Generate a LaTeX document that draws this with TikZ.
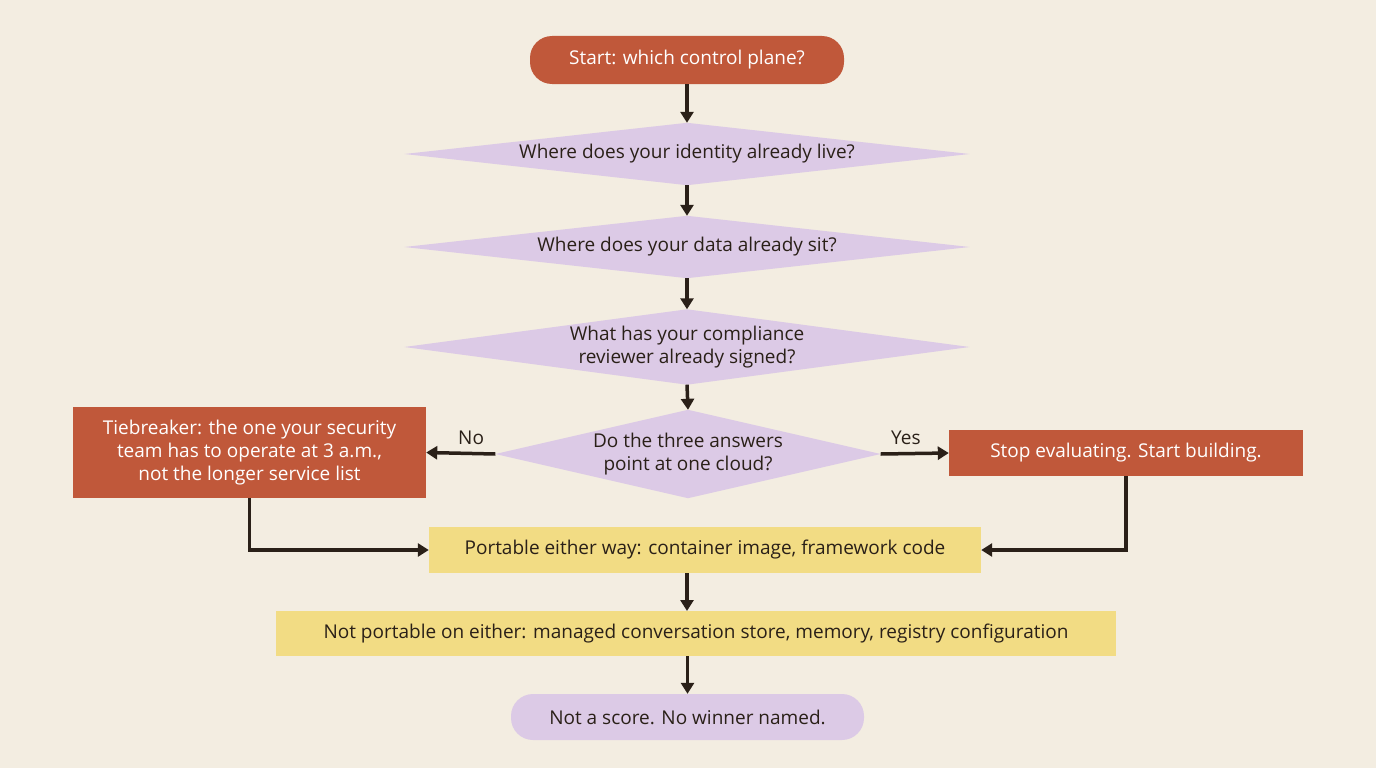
\documentclass[tikz,border=0pt]{standalone}
\usepackage{fontspec}
\setmainfont{Open Sans}
\usetikzlibrary{arrows.meta}
\definecolor{bg}{HTML}{F3EDE1}
\definecolor{org}{HTML}{C0583A}
\definecolor{lav}{HTML}{DCCAE6}
\definecolor{yel}{HTML}{F2DC84}
\definecolor{ink}{HTML}{2A2018}
\begin{document}
\begin{tikzpicture}[x=1pt,y=-1pt,
  box/.style={inner sep=0pt,align=center,font=\fontsize{19}{23}\selectfont,text=ink},
  obox/.style={box,fill=org,text=white},
  ybox/.style={box,fill=yel},
  dia/.style={box},
  arr/.style={draw=ink,line width=3.5pt,-{Triangle[length=11pt,width=13pt]}},
  lbl/.style={font=\fontsize{19}{23}\selectfont,text=ink}]
\fill[bg] (0,0) rectangle (1376,768);
\useasboundingbox (0,0) rectangle (1376,768);
\node[obox,rounded corners=22pt,minimum width=314pt,minimum height=48pt] (s) at (687,60) {Start: which control plane?};
\newcommand\diam[5]{%
 \node[dia,minimum width=#3pt,minimum height=#4pt] (#1) at #2 {};
 \fill[lav] (#1.west)--(#1.north)--(#1.east)--(#1.south)--cycle;
 \node[box] at (#1) {#5};}
\diam{d1}{(687,154)}{565}{62}{Where does your identity already live?}
\diam{d2}{(687,247)}{565}{62}{Where does your data already sit?}
\diam{d3}{(687,347)}{565}{75}{What has your compliance\\reviewer already signed?}
\diam{d4}{(688,454)}{385}{88}{Do the three answers\\point at one cloud?}
\node[obox,minimum width=353pt,minimum height=91pt] (t) at (249.5,452.5) {Tiebreaker: the one your security\\team has to operate at 3 a.m.,\\not the longer service list};
\node[obox,minimum width=354pt,minimum height=46pt] (y) at (1126,453) {Stop evaluating. Start building.};
\node[ybox,minimum width=552pt,minimum height=46pt] (p) at (705,550) {Portable either way: container image, framework code};
\node[ybox,minimum width=840pt,minimum height=45pt] (n) at (696,633.5) {Not portable on either: managed conversation store, memory, registry configuration};
\node[box,fill=lav,rounded corners=22pt,minimum width=353pt,minimum height=46pt] (e) at (687.5,717) {Not a score. No winner named.};
\draw[arr] (s.south) -- (d1.north);
\draw[arr] (d1.south) -- (d2.north);
\draw[arr] (d2.south) -- (d3.north);
\draw[arr] (d3.south) -- (d4.north);
\draw[arr] (d4.west) -- (t.east) node[lbl,pos=0.35,above=4pt] {No};
\draw[arr] (d4.east) -- (y.west) node[lbl,pos=0.37,above=4pt] {Yes};
\draw[arr] (t.south) |- (p.west);
\draw[arr] (y.south) |- (p.east);
\draw[arr] (687,573) -- (687,611);
\draw[arr] (n.south -| e.north) -- (e.north);
\end{tikzpicture}
\end{document}
